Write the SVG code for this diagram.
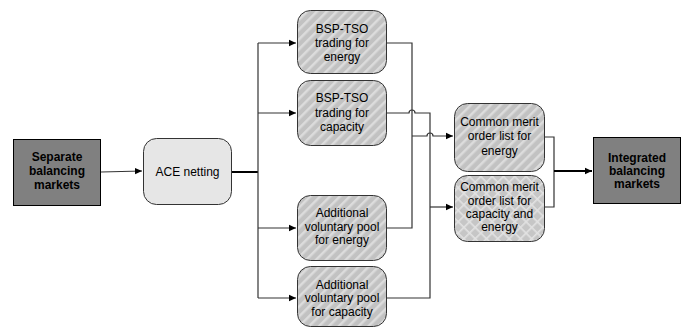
<svg xmlns="http://www.w3.org/2000/svg" width="685" height="328" viewBox="0 0 685 328">
<style>
text{font-family:"Liberation Sans",Arial,sans-serif;font-size:12px;fill:#000;text-anchor:middle}
.b{font-weight:bold;font-size:12px}
.dark{fill:#808080;stroke:#000;stroke-width:1}
.hat{fill:url(#stripe);stroke:#333;stroke-width:1}
.cross{fill:url(#cross);stroke:#333;stroke-width:1}
.c{fill:none;stroke:#333;stroke-width:1.2}
.t{fill:none;stroke:#000;stroke-width:2}
</style>
<defs>
<pattern id="stripe" width="7" height="7" patternUnits="userSpaceOnUse" patternTransform="rotate(45)">
<rect width="7" height="7" fill="#c2c2c2"/>
<rect width="2.5" height="7" fill="#dcdcdc"/>
</pattern>
<pattern id="cross" width="8" height="8" patternUnits="userSpaceOnUse" patternTransform="rotate(45)">
<rect width="8" height="8" fill="#c6c6c6"/>
<rect width="1.6" height="8" fill="#e2e2e2"/>
<rect width="8" height="1.6" fill="#e2e2e2"/>
</pattern>
<marker id="ar" markerWidth="8" markerHeight="8" refX="7" refY="4" orient="auto" markerUnits="userSpaceOnUse">
<path d="M0,0.8 L7,4 L0,7.2 Z" fill="#000"/>
</marker>
</defs>
<g id="connectors">
<path class="c" d="M101,172 L142,171" marker-end="url(#ar)"/>
<path class="t" d="M232,172 L258,172"/>
<path class="c" d="M258,43 L258,298"/>
<path class="c" d="M258,43 L296,43" marker-end="url(#ar)"/>
<path class="c" d="M258,113 L296,113" marker-end="url(#ar)"/>
<path class="c" d="M258,228 L296,228" marker-end="url(#ar)"/>
<path class="c" d="M258,298 L296,298" marker-end="url(#ar)"/>
<path class="c" d="M387,43 L412,43 L412,228 L386,228"/>
<path class="c" d="M387,113 L409,113 A3,3 0 0 1 415,113 L430,113 L430,298 L386,298"/>
<path class="c" d="M412,136 L427,136 A3,3 0 0 1 433,136 L453,136" marker-end="url(#ar)"/>
<path class="c" d="M430,207 L453,207" marker-end="url(#ar)"/>
<path class="c" d="M544,137 L554,137 L554,207 L544,207"/>
<path class="t" d="M554,171 L592,171" marker-end="url(#ar)"/>
</g>
<g id="separate">
<rect class="dark" x="13.5" y="139.5" width="87" height="66"/>
<text class="b" x="57" y="161">Separate</text>
<text class="b" x="57" y="175">balancing</text>
<text class="b" x="57" y="189">markets</text>
</g>
<g id="ace">
<rect x="143.5" y="138.5" width="88" height="66" rx="13" fill="#e6e6e6" stroke="#333"/>
<text x="187.5" y="176">ACE netting</text>
</g>
<g id="bsp-energy">
<rect class="hat" x="297.5" y="10.5" width="89" height="63" rx="13"/>
<text x="342" y="33">BSP-TSO</text>
<text x="342" y="47">trading for</text>
<text x="342" y="61">energy</text>
</g>
<g id="bsp-capacity">
<rect class="hat" x="297.5" y="80.5" width="89" height="65" rx="13"/>
<text x="342" y="102">BSP-TSO</text>
<text x="342" y="117">trading for</text>
<text x="342" y="131">capacity</text>
</g>
<g id="add-energy">
<rect class="hat" x="297.5" y="195.5" width="89" height="65" rx="13"/>
<text x="342" y="217">Additional</text>
<text x="342" y="231">voluntary pool</text>
<text x="342" y="244">for energy</text>
</g>
<g id="add-capacity">
<rect class="hat" x="297.5" y="266.5" width="89" height="60" rx="13"/>
<text x="342" y="289">Additional</text>
<text x="342" y="302">voluntary pool</text>
<text x="342" y="316">for capacity</text>
</g>
<g id="cmo-energy">
<rect class="hat" x="454.5" y="103.5" width="90" height="68" rx="13"/>
<text x="499.5" y="126">Common merit</text>
<text x="499.5" y="140">order list for</text>
<text x="499.5" y="155">energy</text>
</g>
<g id="cmo-capacity">
<rect class="cross" x="454.5" y="175.5" width="90" height="66" rx="13"/>
<text x="499.5" y="191">Common merit</text>
<text x="499.5" y="205">order list for</text>
<text x="499.5" y="218">capacity and</text>
<text x="499.5" y="231">energy</text>
</g>
<g id="integrated">
<rect class="dark" x="593.5" y="137.5" width="87" height="66"/>
<text class="b" x="637" y="162">Integrated</text>
<text class="b" x="637" y="175">balancing</text>
<text class="b" x="637" y="188">markets</text>
</g>
</svg>
